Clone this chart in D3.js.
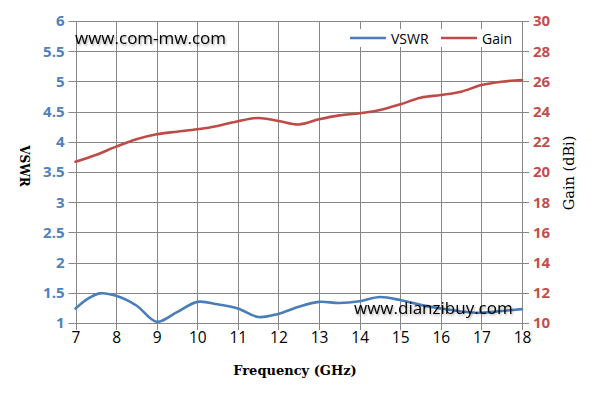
<!DOCTYPE html>
<html><head><meta charset="utf-8">
<script src="https://cdn.jsdelivr.net/npm/d3@7"></script>
<style>body{margin:0;background:#fff}</style>
</head><body>
<svg id="c" width="595" height="404"></svg>
<script>
const freq = [7, 7.3, 7.6, 8, 8.5, 9, 9.5, 10, 10.5, 11, 11.5, 12, 12.5, 13, 13.5, 14, 14.5, 15, 15.5, 16, 16.5, 17, 17.5, 18];
const vswr = [1.24, 1.40, 1.49, 1.45, 1.29, 1.02, 1.18, 1.35, 1.31, 1.24, 1.10, 1.15, 1.27, 1.35, 1.33, 1.36, 1.43, 1.38, 1.30, 1.24, 1.19, 1.17, 1.20, 1.23];
const gainF = [7, 7.5, 8, 8.5, 9, 9.5, 10, 10.5, 11, 11.5, 12, 12.5, 13, 13.5, 14, 14.5, 15, 15.5, 16, 16.5, 17, 17.5, 18];
const gain = [20.68, 21.13, 21.68, 22.17, 22.5, 22.67, 22.83, 23.05, 23.36, 23.58, 23.38, 23.15, 23.49, 23.75, 23.89, 24.1, 24.48, 24.92, 25.1, 25.32, 25.76, 25.98, 26.09];
const xTicks = [7,8,9,10,11,12,13,14,15,16,17,18];
const leftTicks = [1,1.5,2,2.5,3,3.5,4,4.5,5,5.5,6];
const rightTicks = [10,12,14,16,18,20,22,24,26,28,30];
const seriesNames = ["VSWR", "Gain"];

const svg = d3.select("#c");
const L = 75.5, R = 522, T = 21, B = 323;
const x = d3.scaleLinear().domain([7,18]).range([L,R]);
const yL = d3.scaleLinear().domain([1,6]).range([B,T]);
const yR = d3.scaleLinear().domain([10,30]).range([B,T]);
const blue = "#4A7EBB", red = "#BE4B48", grid = "#868686";

// grid
const g = svg.append("g");
g.selectAll(".v").data(xTicks).join("line")
  .attr("x1", d=>Math.round(x(d))+0.5).attr("x2", d=>Math.round(x(d))+0.5)
  .attr("y1", T).attr("y2", B+7).attr("stroke", grid).attr("stroke-width",1);
g.selectAll(".h").data(leftTicks).join("line")
  .attr("x1", L-7).attr("x2", R+7)
  .attr("y1", d=>Math.round(yL(d))+0.5).attr("y2", d=>Math.round(yL(d))+0.5)
  .attr("stroke", grid).attr("stroke-width",1);

// axes via d3
const axL = svg.append("g").attr("transform",`translate(${L-7},0)`)
  .call(d3.axisLeft(yL).tickValues(leftTicks).tickSize(0).tickPadding(4).tickFormat(d=>d));
axL.select(".domain").remove();
axL.selectAll("text").attr("fill", "#4F81BD").attr("font-weight","bold")
  .attr("font-family","'Open Sans', sans-serif").attr("font-size","15px");

const axR = svg.append("g").attr("transform",`translate(${R+7},0)`)
  .call(d3.axisRight(yR).tickValues(rightTicks).tickSize(0).tickPadding(4));
axR.select(".domain").remove();
axR.selectAll("text").attr("fill", "#C0504D").attr("font-weight","bold")
  .attr("font-family","'Open Sans', sans-serif").attr("font-size","15px");

const axB = svg.append("g").attr("transform",`translate(0,${B+7})`)
  .call(d3.axisBottom(x).tickValues(xTicks).tickSize(0).tickPadding(2));
axB.select(".domain").remove();
axB.selectAll("text").attr("fill", "#000")
  .attr("font-family","'Open Sans', sans-serif").attr("font-size","15.5px");

// lines
const lineV = d3.line().x((d,i)=>x(freq[i])).y(d=>yL(d)).curve(d3.curveCatmullRom.alpha(0.5));
const lineG = d3.line().x((d,i)=>x(gainF[i])).y(d=>yR(d)).curve(d3.curveCatmullRom.alpha(0.5));
svg.append("path").attr("d", lineV(vswr)).attr("fill","none").attr("stroke",blue).attr("stroke-width",2.6).attr("stroke-linecap","round");
svg.append("path").attr("d", lineG(gain)).attr("fill","none").attr("stroke",red).attr("stroke-width",2.6).attr("stroke-linecap","round");

// legend
const leg = svg.append("g");
const legX = [350, 441];
[blue, red].forEach((c,i)=>{
  leg.append("rect").attr("x",legX[i]-2).attr("y",29).attr("width", i==0?88:80).attr("height",18).attr("fill","#fff");
});
[blue, red].forEach((c,i)=>{
  leg.append("line").attr("x1",legX[i]).attr("x2",legX[i]+36).attr("y1",38).attr("y2",38).attr("stroke",c).attr("stroke-width",2.6);
  leg.append("text").attr("x",legX[i]+41).attr("y",43.5).text(seriesNames[i])
    .attr("font-family","'Open Sans', sans-serif").attr("font-size","14px").attr("fill","#000");
});

// watermarks
const defs = svg.append("defs");
const f = defs.append("filter").attr("id","sh").attr("x","-10%").attr("y","-30%").attr("width","120%").attr("height","160%");
f.append("feDropShadow").attr("dx",1).attr("dy",1.5).attr("stdDeviation",0.8).attr("flood-color","#000").attr("flood-opacity",0.35);
svg.append("text").attr("x",75).attr("y",44).text("www.com-mw.com")
  .attr("font-family","'Open Sans', sans-serif").attr("font-size","17px").attr("fill","#000").attr("filter","url(#sh)");
svg.append("text").attr("x",354).attr("y",314).text("www.dianzibuy.com")
  .attr("font-family","'Open Sans', sans-serif").attr("font-size","17px").attr("fill","#000").attr("filter","url(#sh)");

// axis titles
svg.append("text").attr("x",295).attr("y",375).attr("text-anchor","middle").text("Frequency (GHz)")
  .attr("font-family","'DejaVu Serif', serif").attr("font-size","13px").attr("font-weight","bold").attr("fill","#000");
svg.append("text").attr("transform","translate(20,166) rotate(90)").attr("text-anchor","middle").text("VSWR")
  .attr("font-family","'DejaVu Serif', serif").attr("font-size","12px").attr("font-weight","bold").attr("fill","#000");
svg.append("text").attr("transform","translate(574,173) rotate(-90)").attr("text-anchor","middle").text("Gain (dBi)")
  .attr("font-family","'DejaVu Serif', serif").attr("font-size","14.5px").attr("fill","#000");
</script>
</body></html>
